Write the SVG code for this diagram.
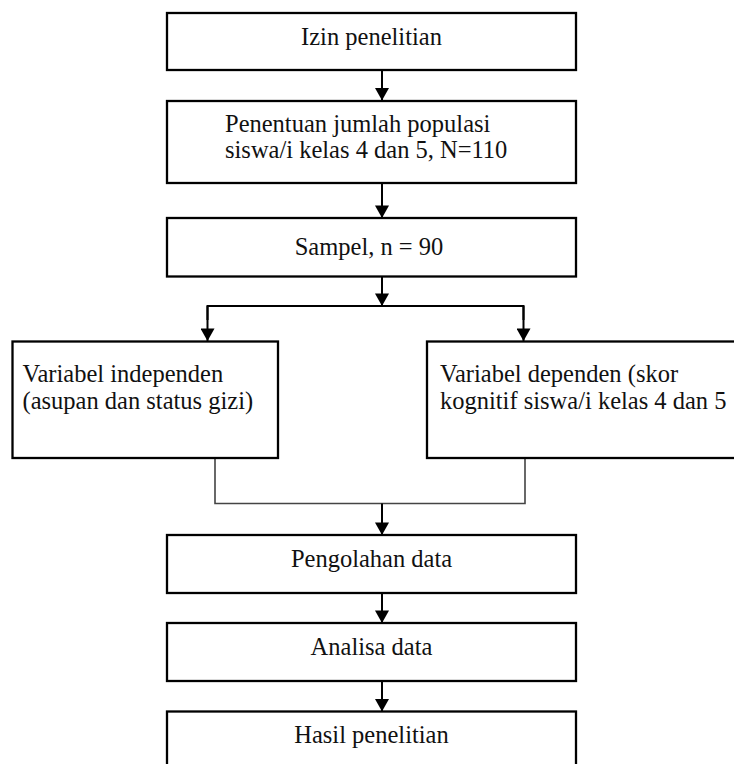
<svg xmlns="http://www.w3.org/2000/svg" width="734" height="764" viewBox="0 0 734 764">
<style>
.box{fill:#fff;stroke:#000;stroke-width:2.3}
.t{font-family:"Liberation Serif","Times New Roman",serif;font-size:24.5px;fill:#111}
.c{text-anchor:middle}
.arr{fill:none;stroke:#000;stroke-width:2;marker-end:url(#ah)}
.ln{fill:none;stroke:#000;stroke-width:2}
.join{fill:none;stroke:#444;stroke-width:1.6}
</style>
<defs>
<marker id="ah" markerUnits="userSpaceOnUse" markerWidth="14" markerHeight="14" viewBox="0 0 13 14" refX="12.5" refY="7" orient="auto">
<path d="M0,0 L12.5,7 L0,14 z" fill="#000"/>
</marker>
</defs>
<rect width="734" height="764" fill="#fff"/>
<g id="connectors">
<line class="arr" x1="382" y1="70" x2="382" y2="100.5"/>
<line class="arr" x1="382" y1="183" x2="382" y2="218"/>
<line class="arr" x1="382" y1="277" x2="382" y2="306"/>
<polyline class="ln" points="207.5,320 207.5,306 523.5,306 523.5,320"/>
<line class="arr" x1="207.5" y1="306" x2="207.5" y2="341"/>
<line class="arr" x1="523.5" y1="306" x2="523.5" y2="341"/>
<polyline class="join" points="215,458 215,503.5 525,503.5 525,458"/>
<line class="arr" x1="382" y1="503.5" x2="382" y2="535"/>
<line class="arr" x1="382" y1="593" x2="382" y2="623"/>
<line class="arr" x1="382" y1="681" x2="382" y2="711.5"/>
</g>
<g id="izin">
<rect class="box" x="167" y="13" width="409" height="57"/>
<text class="t c" x="371.5" y="44.5">Izin penelitian</text>
</g>
<g id="penentuan">
<rect class="box" x="167" y="101" width="409" height="82"/>
<text class="t" x="225" y="131.5">Penentuan jumlah populasi</text>
<text class="t" x="225" y="157.5">siswa/i kelas 4 dan 5, N=110</text>
</g>
<g id="sampel">
<rect class="box" x="167" y="218" width="409" height="58.5"/>
<text class="t c" x="369" y="255">Sampel, n = 90</text>
</g>
<g id="independen">
<rect class="box" x="12.5" y="341.5" width="265.5" height="116.5"/>
<text class="t" x="22.5" y="382">Variabel independen</text>
<text class="t" x="22.5" y="409">(asupan dan status gizi)</text>
</g>
<g id="dependen">
<rect class="box" x="427" y="341.5" width="330" height="116.5"/>
<text class="t" x="440" y="382">Variabel dependen (skor</text>
<text class="t" x="440" y="409">kognitif siswa/i kelas 4 dan 5</text>
</g>
<g id="pengolahan">
<rect class="box" x="167" y="535" width="409" height="58"/>
<text class="t c" x="371.5" y="566.5">Pengolahan data</text>
</g>
<g id="analisa">
<rect class="box" x="167" y="623" width="409" height="58"/>
<text class="t c" x="371.5" y="655">Analisa data</text>
</g>
<g id="hasil">
<rect class="box" x="167" y="711.5" width="409" height="70"/>
<text class="t c" x="371.5" y="743">Hasil penelitian</text>
</g>
</svg>
